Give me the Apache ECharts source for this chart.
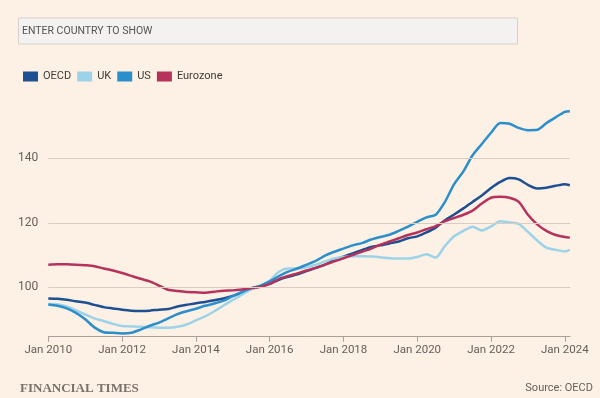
<!DOCTYPE html>
<html>
<head>
<meta charset="utf-8">
<script src="https://cdn.jsdelivr.net/npm/echarts@6/dist/echarts.min.js"></script>
<style>
html,body{margin:0;padding:0;background:#fdf0e5;}
#chart{width:600px;height:398px;}
</style>
</head>
<body>
<div id="chart"></div>
<script>
// Quarterly observations (date strings), last point is the latest reading
var dates = [
 '2010-01-01','2010-04-01','2010-07-01','2010-10-01',
 '2011-01-01','2011-04-01','2011-07-01','2011-10-01',
 '2012-01-01','2012-04-01','2012-07-01','2012-10-01',
 '2013-01-01','2013-04-01','2013-07-01','2013-10-01',
 '2014-01-01','2014-04-01','2014-07-01','2014-10-01',
 '2015-01-01','2015-04-01','2015-07-01','2015-10-01',
 '2016-01-01','2016-04-01','2016-07-01','2016-10-01',
 '2017-01-01','2017-04-01','2017-07-01','2017-10-01',
 '2018-01-01','2018-04-01','2018-07-01','2018-10-01',
 '2019-01-01','2019-04-01','2019-07-01','2019-10-01',
 '2020-01-01','2020-04-01','2020-07-01','2020-10-01',
 '2021-01-01','2021-04-01','2021-07-01','2021-10-01',
 '2022-01-01','2022-04-01','2022-07-01','2022-10-01',
 '2023-01-01','2023-04-01','2023-07-01','2023-10-01',
 '2024-01-01','2024-02-20'
];
var seriesNames = ['OECD','UK','US','Eurozone'];
var oecd = [96.5,96.4,96.1,95.6, 95.2,94.5,93.8,93.4, 93.0,92.7,92.6,92.7, 93.0,93.2,94.0,94.5,
  95.0,95.4,95.9,96.5, 97.3,98.3,99.4,100.3, 101.0,102.3,103.2,104.0, 105.0,106.0,107.0,108.5,
  109.5,110.5,111.5,112.5, 113.0,113.6,114.2,115.2, 115.8,117.0,118.5,120.8, 122.6,124.5,126.5,128.5,
  130.8,132.7,133.9,133.5, 131.8,130.7,130.9,131.5, 132.0,131.7];
var uk = [94.8,94.7,94.0,92.8, 91.5,90.3,89.5,88.6, 87.9,87.8,87.7,87.5, 87.4,87.4,87.7,88.4,
  89.7,90.9,92.5,94.3, 96.0,97.7,99.3,100.4, 102.0,104.8,105.8,105.8, 106.2,107.0,108.0,108.9,
  109.4,109.6,109.6,109.5, 109.3,109.0,108.9,108.9, 109.4,110.2,109.2,112.8, 115.8,117.5,118.8,117.6,
  118.9,120.5,120.1,119.7, 117.2,114.5,112.3,111.6, 111.1,111.6];
var us = [94.6,94.2,93.4,92.0, 90.0,87.5,86.0,85.8, 85.6,85.8,86.8,88.0, 89.0,90.3,91.6,92.5,
  93.3,94.2,94.9,95.8, 97.2,98.5,99.7,100.5, 101.8,103.4,104.8,105.8, 107.0,108.2,109.8,111.0,
  112.0,113.0,113.7,114.8, 115.6,116.3,117.5,118.8, 120.3,121.7,122.5,126.5, 132.0,136.0,141.0,144.5,
  148.0,151.0,150.8,149.5, 148.8,148.9,151.0,152.8, 154.5,154.7];
var eurozone = [107.0,107.1,107.1,107.0, 106.8,106.5,105.8,105.2, 104.4,103.5,102.6,101.8, 100.5,99.2,98.8,98.5,
  98.4,98.3,98.6,98.9, 99.0,99.3,99.7,100.1, 101.0,102.5,103.5,104.3, 105.2,106.0,107.0,108.0,
  109.0,110.0,111.0,112.0, 113.2,114.2,115.2,116.2, 117.0,118.0,119.0,120.5, 121.5,122.5,123.8,126.0,
  127.8,128.1,127.8,126.5, 122.5,119.5,117.5,116.2, 115.6,115.4];
var yTicks = [100, 120, 140];
var xTicks = [2010, 2012, 2014, 2016, 2018, 2020, 2022, 2024];

var colors = ['#1d4f91', '#9cd3e8', '#2b8fcb', '#b6325d'];

function toYear(s) {
  var p = s.split('-');
  return +p[0] + (+p[1] - 1) / 12 + (+p[2] - 1) / 365;
}
function pairs(vals) {
  return vals.map(function (v, i) { return [toYear(dates[i]), v]; });
}
var allVals = [oecd, uk, us, eurozone];

var chart = echarts.init(document.getElementById('chart'), null, {renderer: 'canvas'});
var series = [{
  type: 'line', data: [], silent: true,
  markLine: {
    silent: true, symbol: 'none', label: {show: false},
    lineStyle: {color: '#d9cdc3', width: 1, type: 'solid'},
    data: yTicks.map(function (t) { return {yAxis: t}; })
  }
}];
seriesNames.forEach(function (n, i) {
  series.push({
    name: n, type: 'line', data: pairs(allVals[i]),
    showSymbol: false, smooth: 0.25,
    lineStyle: {width: 2.5, color: colors[i]},
    itemStyle: {color: colors[i]}
  });
});

chart.setOption({
  backgroundColor: '#fdf0e5',
  animation: false,
  textStyle: {fontFamily: 'Roboto'},
  grid: {left: 48.3, right: 30, top: 94.15, bottom: 61.3, containLabel: false},
  legend: {
    data: seriesNames, left: 18, top: 66, icon: 'rect',
    itemWidth: 15, itemHeight: 10, itemGap: 6,
    textStyle: {fontSize: 11, color: '#3f3a37', fontFamily: 'Roboto'}
  },
  xAxis: {
    type: 'value', min: 2010, max: 2024.14,
    splitLine: {show: false},
    axisLine: {show: true, lineStyle: {color: '#a9a099', width: 1}},
    axisTick: {show: true, length: 5, customValues: xTicks, lineStyle: {color: '#a9a099'}},
    axisLabel: {customValues: xTicks, margin: 7, fontSize: 11.5, color: '#66605c',
      formatter: function (v) { return 'Jan ' + Math.round(v); }}
  },
  yAxis: {
    type: 'value', min: 84.6, max: 160,
    splitLine: {show: false},
    axisLine: {show: false}, axisTick: {show: false},
    axisLabel: {customValues: yTicks, margin: 10, fontSize: 12, color: '#66605c'}
  },
  graphic: [
    {type: 'rect', left: 18, top: 17.5, shape: {width: 499, height: 26},
      style: {fill: '#f4f2f1', stroke: '#d6d1cd', lineWidth: 1}},
    {type: 'text', left: 22, top: 25.5, style: {text: 'ENTER COUNTRY TO SHOW', fill: '#555250',
      font: '10.5px Roboto'}},
    {type: 'text', left: 20, top: 382, style: {text: 'FINANCIAL TIMES', fill: '#7a716b',
      font: 'bold 13px "Liberation Serif"'}},
    {type: 'text', right: 7, top: 383, style: {text: 'Source: OECD', fill: '#66605c',
      font: '11px Roboto'}}
  ],
  series: series
});
</script>
</body>
</html>
